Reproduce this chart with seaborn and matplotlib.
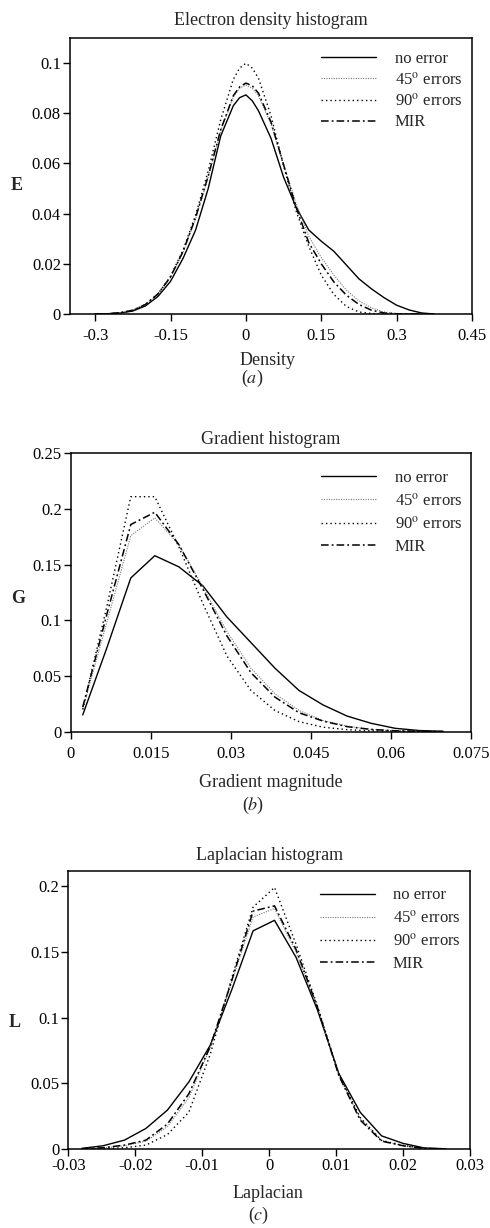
import numpy as np
import pandas as pd
import matplotlib
matplotlib.use("Agg")
import matplotlib.pyplot as plt
import seaborn as sns

# ---- data ----
series = ["no error", "45$^{\\rm o}$ errors", "90$^{\\rm o}$ errors", "MIR"]

# (a) electron density histogram
density_x = [-0.300, -0.275, -0.250, -0.225, -0.200, -0.175, -0.150, -0.125, -0.100,
             -0.075, -0.050, -0.025, -0.0125, 0.000, 0.0125, 0.025, 0.050, 0.075, 0.100,
             0.125, 0.150, 0.175, 0.200, 0.225, 0.250, 0.275, 0.300, 0.325, 0.350, 0.375]
density_none = [0.0, 0.0001, 0.0004, 0.0012, 0.0032, 0.0070, 0.0130, 0.0222, 0.0335,
                0.0500, 0.0710, 0.0830, 0.0862, 0.0873, 0.0850, 0.0810, 0.0700, 0.0545,
                0.0425, 0.0335, 0.0290, 0.0250, 0.0195, 0.0140, 0.0100, 0.0065, 0.0035,
                0.0016, 0.0004, 0.0]
density_45 = [0.0, 0.0001, 0.0005, 0.0015, 0.0037, 0.0078, 0.0145, 0.0245, 0.0380,
              0.0545, 0.0730, 0.0865, 0.0900, 0.0912, 0.0900, 0.0870, 0.0755, 0.0595,
              0.0440, 0.0310, 0.0225, 0.0155, 0.0095, 0.0052, 0.0024, 0.0008, 0.0002,
              0.0, 0.0, 0.0]
density_90 = [0.0, 0.0001, 0.0005, 0.0015, 0.0038, 0.0080, 0.0150, 0.0255, 0.0395,
              0.0570, 0.0775, 0.0935, 0.0980, 0.0999, 0.0980, 0.0940, 0.0790, 0.0590,
              0.0410, 0.0270, 0.0155, 0.0078, 0.0030, 0.0008, 0.0002, 0.0, 0.0,
              0.0, 0.0, 0.0]
density_mir = [0.0, 0.0001, 0.0005, 0.0015, 0.0038, 0.0080, 0.0148, 0.0250, 0.0385,
               0.0550, 0.0735, 0.0870, 0.0905, 0.0920, 0.0910, 0.0880, 0.0765, 0.0595,
               0.0425, 0.0285, 0.0200, 0.0128, 0.0075, 0.0038, 0.0015, 0.0004, 0.0001,
               0.0, 0.0, 0.0]

# (b) gradient histogram
grad_x = [0.00225, 0.00675, 0.01125, 0.01575, 0.02025, 0.02475, 0.02925, 0.03375,
          0.03825, 0.04275, 0.04725, 0.05175, 0.05625, 0.06075, 0.06525, 0.06975]
grad_none = [0.015, 0.075, 0.138, 0.158, 0.148, 0.131, 0.103, 0.080,
             0.057, 0.037, 0.024, 0.014, 0.0075, 0.003, 0.001, 0.0003]
grad_45 = [0.020, 0.098, 0.176, 0.192, 0.168, 0.130, 0.090, 0.057,
           0.034, 0.019, 0.010, 0.005, 0.002, 0.0008, 0.0003, 0.0001]
grad_90 = [0.020, 0.112, 0.211, 0.211, 0.166, 0.115, 0.068, 0.037,
           0.019, 0.009, 0.004, 0.0018, 0.0007, 0.0003, 0.0001, 0.0]
grad_mir = [0.022, 0.105, 0.186, 0.197, 0.168, 0.128, 0.086, 0.053,
            0.031, 0.017, 0.0095, 0.0045, 0.002, 0.0008, 0.0003, 0.0001]

# (c) laplacian histogram
lap_x = [-0.0280, -0.0248, -0.0216, -0.0184, -0.0152, -0.0120, -0.0088, -0.0056,
         -0.0024, 0.0008, 0.0040, 0.0072, 0.0104, 0.0136, 0.0168, 0.0200, 0.0232, 0.0264]
lap_none = [0.0005, 0.0025, 0.0068, 0.0157, 0.0296, 0.051, 0.079, 0.121,
            0.166, 0.174, 0.146, 0.106, 0.0575, 0.028, 0.0100, 0.0043, 0.0008, 0.0002]
lap_45 = [0.0001, 0.0008, 0.0025, 0.0060, 0.017, 0.039, 0.077, 0.127,
          0.1765, 0.183, 0.150, 0.108, 0.056, 0.023, 0.0065, 0.0025, 0.0005, 0.0001]
lap_90 = [0.0, 0.0002, 0.0010, 0.0030, 0.011, 0.028, 0.072, 0.130,
          0.184, 0.199, 0.156, 0.109, 0.057, 0.024, 0.0065, 0.0028, 0.0005, 0.0]
lap_mir = [0.0002, 0.0010, 0.0030, 0.0068, 0.019, 0.042, 0.078, 0.128,
           0.181, 0.185, 0.152, 0.108, 0.056, 0.022, 0.0060, 0.0025, 0.0005, 0.0001]

# ---- style ----
sns.set_style("ticks")
plt.rcParams["font.family"] = ["Liberation Serif", "DejaVu Serif"]
plt.rcParams["mathtext.fontset"] = "stix"
plt.rcParams["axes.unicode_minus"] = False
plt.rcParams["axes.edgecolor"] = "black"
plt.rcParams["axes.linewidth"] = 1.1
plt.rcParams["xtick.color"] = "black"
plt.rcParams["ytick.color"] = "black"

line_styles = [
    dict(color="black", linestyle="-", linewidth=1.0),
    dict(color="#777777", linestyle=(0, (1, 1.2)), linewidth=0.8),
    dict(color="black", linestyle=(0, (1, 2.2)), linewidth=1.0),
    dict(color="black", linestyle=(0, (5, 2, 1.2, 2)), linewidth=1.1),
]

fig = plt.figure(figsize=(4.9, 12.28), dpi=100)


def draw_panel(rect, x, ys, title, xlim, ylim, xticks, yticks, title_pad, tick_pad,
               leg_y, leg_space):
    ax = fig.add_axes(rect)
    for name, y, st in zip(series, ys, line_styles):
        df = pd.DataFrame({"x": x, "y": y})
        sns.lineplot(data=df, x="x", y="y", ax=ax, label=name, **st)
    ax.set_xlim(*xlim)
    ax.set_ylim(*ylim)
    ax.set_xticks(xticks)
    ax.set_yticks(yticks)
    ax.set_xticklabels([f"{v:g}" for v in xticks])
    ax.set_yticklabels([f"{v:g}" for v in yticks])
    ax.set_xlabel("")
    ax.set_ylabel("")
    ax.tick_params(axis="both", direction="out", length=5, width=1.0, labelsize=12)
    ax.tick_params(axis="x", pad=tick_pad)
    ax.tick_params(axis="y", pad=1.5)
    ax.set_title(title, fontsize=13, pad=title_pad)
    for s in ax.spines.values():
        s.set_visible(True)
    ax.legend(loc="upper left", bbox_to_anchor=(0.588, leg_y), frameon=False,
              handlelength=3.3, handletextpad=1.1, labelspacing=leg_space, fontsize=12)
    return ax


axa = draw_panel([0.1429, 0.7443, 0.8204, 0.2248], density_x,
                 [density_none, density_45, density_90, density_mir],
                 "Electron density histogram", (-0.35, 0.45), (0, 0.11),
                 [-0.3, -0.15, 0, 0.15, 0.3, 0.45], [0, 0.02, 0.04, 0.06, 0.08, 0.1],
                 9, 5, 1.008, 0.28)
axb = draw_panel([0.1443, 0.4042, 0.8173, 0.2267], grad_x,
                 [grad_none, grad_45, grad_90, grad_mir],
                 "Gradient histogram", (0, 0.075), (0, 0.25),
                 [0, 0.015, 0.03, 0.045, 0.06, 0.075], [0, 0.05, 0.1, 0.15, 0.2, 0.25],
                 7, 5, 0.995, 0.4)
axc = draw_panel([0.1394, 0.0643, 0.8198, 0.2264], lap_x,
                 [lap_none, lap_45, lap_90, lap_mir],
                 "Laplacian histogram", (-0.03, 0.03), (0, 0.2115),
                 [-0.03, -0.02, -0.01, 0, 0.01, 0.02, 0.03], [0, 0.05, 0.1, 0.15, 0.2],
                 8, 1.5, 0.995, 0.38)

# axis labels and panel letters
fig.text(0.545, 0.7068, "Density", ha="center", va="center", fontsize=13)
fig.text(0.514, 0.6922, "($a$)", ha="center", va="center", fontsize=13)
fig.text(0.553, 0.3624, "Gradient magnitude", ha="center", va="center", fontsize=13)
fig.text(0.516, 0.3445, "($b$)", ha="center", va="center", fontsize=13)
fig.text(0.547, 0.0285, "Laplacian", ha="center", va="center", fontsize=13)
fig.text(0.527, 0.0106, "($c$)", ha="center", va="center", fontsize=13)

fig.text(0.0347, 0.8493, "E", ha="center", va="center", fontsize=13, fontweight="bold")
fig.text(0.0367, 0.5130, "G", ha="center", va="center", fontsize=13, fontweight="bold")
fig.text(0.0290, 0.1670, "L", ha="center", va="center", fontsize=13, fontweight="bold")

fig.savefig("out.png", dpi=100, facecolor="white")
